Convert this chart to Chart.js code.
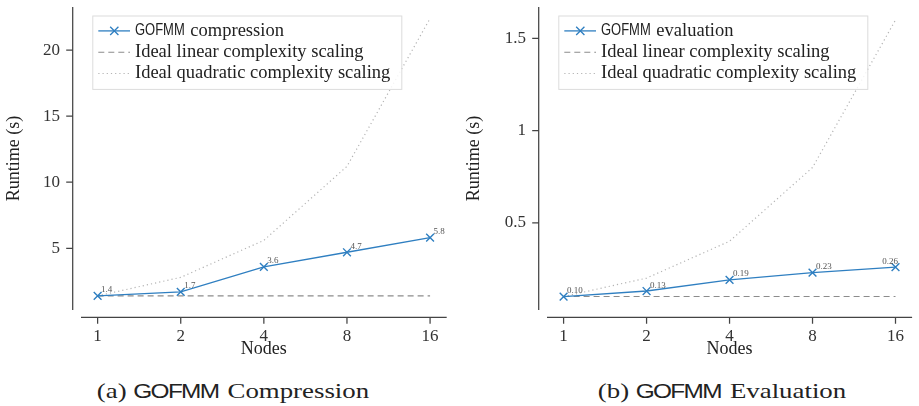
<!DOCTYPE html>
<html>
<head>
<meta charset="utf-8">
<title>GOFMM scaling</title>
<script src="https://cdn.jsdelivr.net/npm/chart.js@4.4.1/dist/chart.umd.min.js"></script>
<style>
  body { margin: 0; background: #fff; width: 919px; height: 406px; position: relative; overflow: hidden; }
  canvas { position: absolute; top: 0; }
  #compressionChart { left: 0; }
  #evaluationChart { left: 460px; }
  .caption {
    position: absolute; top: 380px; transform: translateX(-50%) scaleX(1.22);
    font-family: "Liberation Serif", serif; font-size: 22px; line-height: 22px;
    color: #222; white-space: nowrap;
  }
  .caption .sans { font-family: "Liberation Sans", sans-serif; font-size: 20px; letter-spacing: -1.4px; margin-right: 2px; }
</style>
</head>
<body>
<canvas id="compressionChart" width="460" height="360"></canvas>
<canvas id="evaluationChart" width="459" height="360"></canvas>
<div class="caption" style="left:233px">(a) <span class="sans">GOFMM</span> Compression</div>
<div class="caption" style="left:722px">(b) <span class="sans">GOFMM</span> Evaluation</div>

<script>
// Nodes on the x axis
const nodes = [1, 2, 4, 8, 16];

// Measured runtimes (s)
const compressionTimes = [1.4, 1.7, 3.6, 4.7, 5.8];
const evaluationTimes = [0.10, 0.13, 0.19, 0.23, 0.26];

// Reference scaling curves, starting from the 1-node runtime
const compressionLinear = [1.4, 1.4, 1.4, 1.4, 1.4];
const compressionQuadratic = [1.4, 2.8, 5.6, 11.2, 22.4];
const evaluationLinear = [0.10, 0.10, 0.10, 0.10, 0.10];
const evaluationQuadratic = [0.10, 0.20, 0.40, 0.80, 1.60];

// Tick labels
const nodeTicks = [1, 2, 4, 8, 16];
const compressionTicks = [5, 10, 15, 20];
const evaluationTicks = [0.5, 1, 1.5];

const SERIF = '"Liberation Serif", serif';
const SANS = '"Liberation Sans", sans-serif';
const BLUE = '#2f7fc1';

// draw text where the word GOFMM is set in a narrow sans face
function drawMixed(ctx, text, x, y, size) {
  const parts = text.split(/(GOFMM)/).filter(s => s.length);
  parts.forEach(part => {
    if (part === 'GOFMM') {
      ctx.font = `${size * 0.9}px ${SANS}`;
      const w = ctx.measureText(part).width * 0.78;
      ctx.fillText(part, x, y, w);
      x += w + 1;
    } else {
      ctx.font = `${size}px ${SERIF}`;
      ctx.fillText(part, x, y);
      x += ctx.measureText(part).width;
    }
  });
  return x;
}

// offset spines with outward tick marks (seaborn despine look)
const spinePlugin = {
  id: 'spines',
  afterDraw(chart) {
    const {ctx, chartArea: a, scales: {x, y}} = chart;
    const yx = a.left - 8.3, xy = a.bottom + 7.3, tl = 6.5;
    ctx.save();
    ctx.strokeStyle = '#444';
    ctx.lineWidth = 1.25;
    ctx.beginPath();
    ctx.moveTo(yx, a.top); ctx.lineTo(yx, a.bottom);
    ctx.moveTo(a.left, xy); ctx.lineTo(a.right, xy);
    y.ticks.forEach(t => {
      const py = y.getPixelForValue(t.value);
      ctx.moveTo(yx - tl, py); ctx.lineTo(yx, py);
    });
    x.ticks.forEach(t => {
      const px = x.getPixelForValue(t.value);
      ctx.moveTo(px, xy); ctx.lineTo(px, xy + tl);
    });
    ctx.stroke();
    ctx.restore();
  }
};

// small value labels next to each measured point
const valueLabelPlugin = {
  id: 'valueLabels',
  afterDatasetsDraw(chart, args, opts) {
    const {ctx} = chart;
    const meta = chart.getDatasetMeta(0);
    const data = chart.data.datasets[0].data;
    ctx.save();
    ctx.font = `9px ${SERIF}`;
    ctx.fillStyle = '#555';
    ctx.textBaseline = 'alphabetic';
    meta.data.forEach((pt, i) => {
      const last = i === data.length - 1 && opts.lastRight;
      ctx.textAlign = last ? 'right' : 'left';
      ctx.fillText(data[i].y.toFixed(opts.decimals), last ? pt.x + 2.5 : pt.x + 3.5, pt.y - 3.5);
    });
    ctx.restore();
  }
};

// framed legend in the upper left corner of the plot area
const boxLegendPlugin = {
  id: 'boxLegend',
  afterDraw(chart) {
    const {ctx, chartArea: a} = chart;
    const size = 18.5, rowGap = 21.3, firstRow = 15.4;
    const sets = chart.data.datasets;
    const left = a.left + 11.3, top = a.top + 8.6;
    ctx.save();
    ctx.font = `${size}px ${SERIF}`;
    let maxW = 0;
    sets.forEach(ds => { maxW = Math.max(maxW, ctx.measureText(ds.label).width); });
    const w = 42.7 + maxW + 11, h = firstRow * 2 + rowGap * (sets.length - 1);
    ctx.fillStyle = 'rgba(255,255,255,0.85)';
    ctx.fillRect(left, top, w, h);
    ctx.strokeStyle = '#dcdcdc';
    ctx.lineWidth = 1;
    ctx.strokeRect(left + 0.5, top + 0.5, w, h);
    sets.forEach((ds, i) => {
      const ry = top + firstRow + i * rowGap;
      ctx.strokeStyle = ds.borderColor;
      ctx.lineWidth = ds.borderWidth;
      ctx.setLineDash(ds.borderDash || []);
      ctx.beginPath();
      ctx.moveTo(left + 6, ry); ctx.lineTo(left + 37.7, ry);
      ctx.stroke();
      ctx.setLineDash([]);
      if (ds.pointRadius) {
        const cx = left + 22, r = ds.pointRadius * 0.75;
        ctx.beginPath();
        ctx.moveTo(cx - r, ry - r); ctx.lineTo(cx + r, ry + r);
        ctx.moveTo(cx - r, ry + r); ctx.lineTo(cx + r, ry - r);
        ctx.stroke();
      }
      ctx.fillStyle = '#222';
      ctx.textBaseline = 'middle';
      drawMixed(ctx, ds.label, left + 42.7, ry, size);
    });
    ctx.restore();
  }
};

function xy(ys) {
  return nodes.map((n, i) => ({x: n, y: ys[i]}));
}

function scalingChart(id, cfg) {
  return new Chart(document.getElementById(id), {
    type: 'line',
    data: {
      datasets: [
        {
          label: cfg.label, data: xy(cfg.measured),
          borderColor: BLUE, backgroundColor: BLUE, borderWidth: 1.3,
          pointStyle: 'crossRot', pointRadius: 5.5, pointBorderWidth: 1.4,
          pointBorderColor: BLUE
        },
        {
          label: 'Ideal linear complexity scaling', data: xy(cfg.linear),
          borderColor: '#8c8c8c', borderWidth: 1.1, borderDash: [6, 4], pointRadius: 0
        },
        {
          label: 'Ideal quadratic complexity scaling', data: xy(cfg.quadratic),
          borderColor: '#b4b4b4', borderWidth: 1.2, borderDash: [1.2, 3], pointRadius: 0
        }
      ]
    },
    plugins: [spinePlugin, valueLabelPlugin, boxLegendPlugin],
    options: {
      responsive: false,
      animation: false,
      devicePixelRatio: 1,
      layout: {padding: {left: 0, right: cfg.padRight, top: 6.7, bottom: 0}},
      elements: {line: {tension: 0}},
      plugins: {
        legend: {display: false},
        tooltip: {enabled: false},
        valueLabels: {decimals: cfg.decimals, lastRight: cfg.lastRight}
      },
      scales: {
        x: {
          type: 'logarithmic', min: Math.pow(2, -0.2), max: Math.pow(2, 4.2),
          afterBuildTicks: s => { s.ticks = nodeTicks.map(v => ({value: v})); },
          afterFit: s => { s.height = 50; s.paddingLeft = 0; s.paddingRight = 0; },
          grid: {display: false, drawTicks: false, tickLength: 0},
          border: {display: false},
          ticks: {
            callback: v => String(v), padding: 16, maxRotation: 0,
            autoSkip: false, color: '#333', font: {family: SERIF, size: 17}
          },
          title: {
            display: true, text: 'Nodes', color: '#222',
            font: {family: SERIF, size: 18, lineHeight: 1.2}, padding: {top: 0, bottom: 0}
          }
        },
        y: {
          type: 'linear', min: cfg.yMin, max: cfg.yMax,
          afterBuildTicks: s => { s.ticks = cfg.yTicks.map(v => ({value: v})); },
          afterFit: s => { s.width = cfg.yWidth; s.paddingTop = 0; s.paddingBottom = 0; },
          grid: {display: false, drawTicks: false, tickLength: 0},
          border: {display: false},
          ticks: {
            callback: v => String(v), padding: 21, color: '#333',
            font: {family: SERIF, size: 17}
          },
          title: {
            display: true, text: 'Runtime (s)', color: '#222',
            font: {family: SERIF, size: 18, lineHeight: 1.2}, padding: {top: 3, bottom: 0}
          }
        }
      }
    }
  });
}

scalingChart('compressionChart', {
  label: 'GOFMM compression',
  measured: compressionTimes, linear: compressionLinear, quadratic: compressionQuadratic,
  yMin: 0.33, yMax: 23.27, yTicks: compressionTicks, yWidth: 81, padRight: 13.3,
  decimals: 1, lastRight: false
});

scalingChart('evaluationChart', {
  label: 'GOFMM evaluation',
  measured: evaluationTimes, linear: evaluationLinear, quadratic: evaluationQuadratic,
  yMin: 0.027, yMax: 1.671, yTicks: evaluationTicks, yWidth: 87, padRight: 6,
  decimals: 2, lastRight: true
});
</script>
</body>
</html>
